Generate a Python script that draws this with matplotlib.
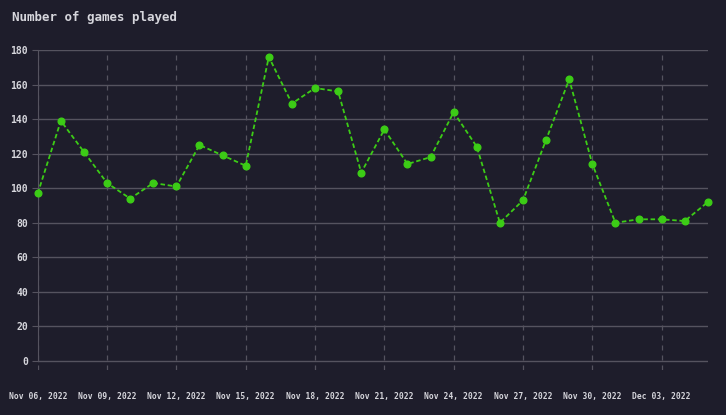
import numpy as np
import pandas as pd
import matplotlib.pyplot as plt
import matplotlib.dates as mdates

# DATA

dates = pd.date_range('2022-11-06', '2022-12-05', freq='D')
games = [97, 139, 121, 103, 94, 103, 101, 125, 119, 113,
         176, 149, 158, 156, 109, 134, 114, 118, 144, 124,
         80, 93, 128, 163, 114, 80, 82, 82, 81, 92]

# STYLE

bg = '#1e1d2b'
grid_col = '#55535f'
text_col = '#d6d6dc'
line_col = '#3ccc16'

plt.rcParams['font.family'] = ['DejaVu Sans Mono']

# PLOT

fig = plt.figure(figsize=(7.26, 4.15), dpi=100, facecolor=bg)
ax = fig.add_axes([0.052, 0.1094, 0.923, 0.7701], facecolor=bg)

ax.plot(dates, games, color=line_col, linestyle=(0, (2.5, 1.5)), linewidth=1.3,
        marker='o', markersize=4.8, clip_on=False, zorder=3)

ax.set_xlim(dates[0], dates[-1])
ax.set_ylim(-5, 180)
ax.set_yticks(np.arange(0, 181, 20))
ax.xaxis.set_major_locator(mdates.DayLocator(bymonthday=[3, 6, 9, 12, 15, 18, 21, 24, 27, 30]))
ax.xaxis.set_major_formatter(mdates.DateFormatter('%b %d, %Y'))

ax.grid(axis='y', color=grid_col, linewidth=1, linestyle='-')
ax.grid(axis='x', color=grid_col, linewidth=0.9, linestyle=(0, (4, 4)))

for s in ['top', 'right', 'bottom']:
    ax.spines[s].set_visible(False)
ax.spines['left'].set_color(grid_col)
ax.spines['left'].set_bounds(0, 180)

ax.tick_params(axis='x', length=0, pad=16, labelsize=5.8, labelcolor=text_col)
ax.tick_params(axis='y', length=4, color=grid_col, pad=3, labelsize=7, labelcolor=text_col)
for lbl in ax.get_xticklabels() + ax.get_yticklabels():
    lbl.set_fontweight('bold')

fig.text(0.017, 0.958, 'Number of games played', color=text_col, fontsize=9,
         fontweight='bold', ha='left', va='center')

fig.savefig('out.png', dpi=100, facecolor=bg)
